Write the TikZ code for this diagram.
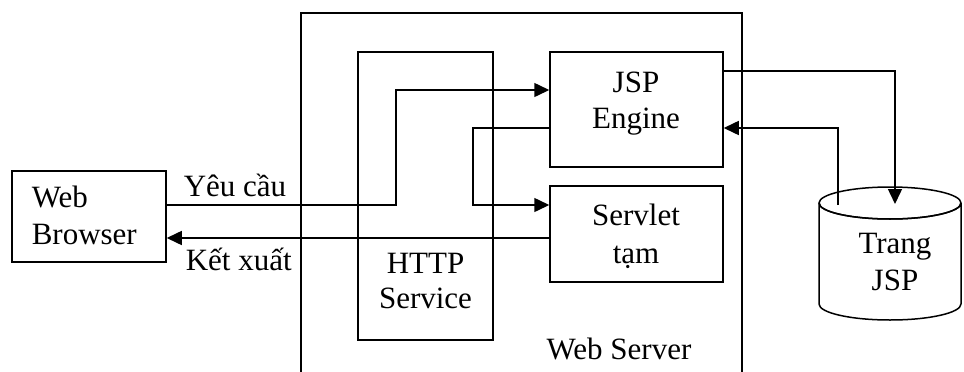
\documentclass[tikz,border=0pt]{standalone}
\usepackage{fontspec}
\setmainfont{Liberation Serif}
\usetikzlibrary{arrows.meta}
\begin{document}
\begin{tikzpicture}[x=1pt,y=-1pt,line width=1.5pt,
  box/.style={draw,rectangle,inner sep=0pt},
  txt/.style={anchor=base,inner sep=0pt,font=\fontsize{31}{37}\selectfont},
  arr/.style={-{Triangle[length=15pt,width=14pt]}}]
\useasboundingbox (0,0) rectangle (964,372);
% Web Server frame (open at the bottom)
\draw (301,380) -- (301,13) -- (742,13) -- (742,380);
\node[txt] (wslabel) at (619,359) {Web Server};
% boxes
\node[box,minimum width=154pt,minimum height=91pt] (browser) at (89,216.5) {};
\node[box,minimum width=135pt,minimum height=288pt] (http) at (425.5,196) {};
\node[box,minimum width=173pt,minimum height=115pt] (engine) at (636.5,109.5) {};
\node[box,minimum width=173pt,minimum height=96pt] (servlet) at (636.5,234) {};
% texts
\node[txt,anchor=base west] (t1) at (31,207) {Web};
\node[txt,anchor=base west] (t2) at (31,244) {Browser};
\node[txt] (t3) at (425.5,273) {HTTP};
\node[txt] (t4) at (425.5,308) {Service};
\node[txt] (t5) at (636,92) {JSP};
\node[txt] (t6) at (636,128) {Engine};
\node[txt] (t7) at (636,225) {Servlet};
\node[txt] (t8) at (636,263) {tạm};
% cylinder
\draw (819,203) -- (819,304) arc[start angle=180,end angle=360,x radius=71pt,y radius=16pt]
      -- (961,203) arc[start angle=0,end angle=360,x radius=71pt,y radius=16pt];
\draw (819,203) arc[start angle=180,end angle=0,x radius=71pt,y radius=-16pt];
\coordinate (cylin) at (895,204);
\coordinate (cylout) at (838,205);
\node[txt] (t9) at (895,253) {Trang};
\node[txt] (t10) at (895,290) {JSP};
% connectors
\draw[arr] (browser.east |- 0,205) -- (396,205) -- (396,90) -- (engine.west |- 0,90);
\node[txt,anchor=base west] (yc) at (183,196) {Yêu cầu};
\draw[arr] (servlet.west |- 0,238) -- (browser.east |- 0,238);
\node[txt,anchor=base west] (kx) at (185,270) {Kết xuất};
\draw[arr] (engine.west |- 0,128) -- (473,128) -- (473,205) -- (servlet.west |- 0,205);
\draw[arr] (engine.east |- 0,71) -- (cylin |- 0,71) -- (cylin);
\draw[arr] (cylout) -- (cylout |- 0,128) -- (engine.east |- 0,128);
\end{tikzpicture}
\end{document}
